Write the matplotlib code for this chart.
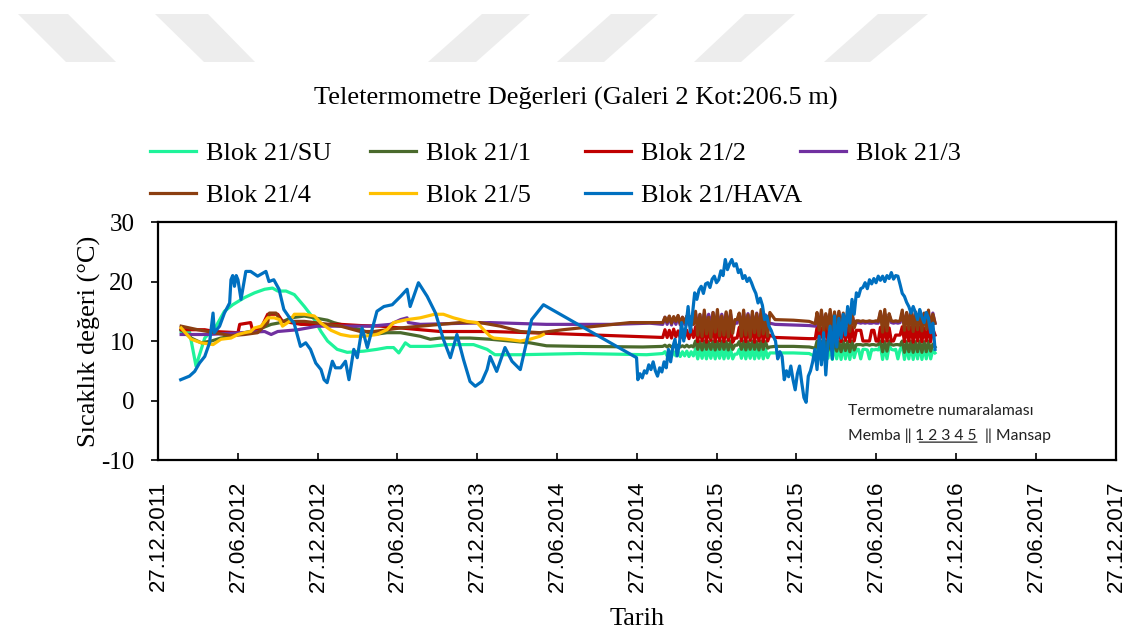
import pandas as pd
import matplotlib.pyplot as plt
import matplotlib.dates as mdates
from matplotlib.patches import Polygon

plt.rcParams['axes.unicode_minus'] = False

# --- Seyrek (elle okunan) olcumler 2012-2015 ---
su_tarih = ['2012-02-18', '2012-03-08', '2012-03-23', '2012-04-12', '2012-05-08', '2012-05-27', '2012-06-15',
            '2012-07-12', '2012-08-04', '2012-08-27', '2012-09-14', '2012-09-26', '2012-10-15', '2012-11-03',
            '2012-11-26', '2012-12-19', '2013-01-03', '2013-01-18', '2013-02-09', '2013-03-04', '2013-04-11',
            '2013-05-11', '2013-06-03', '2013-06-18', '2013-06-30', '2013-07-15', '2013-07-26', '2013-09-10',
            '2013-10-18', '2013-12-18', '2014-01-18', '2014-02-05', '2014-04-04', '2014-08-18', '2015-01-18',
            '2015-02-24']
su_deger = [11.6, 11.6, 5.8, 10.5, 12.5, 15.0, 16.1, 17.3, 18.1, 18.7, 18.9, 18.4, 18.4, 17.8, 15.8, 13.6,
            11.6, 10.0, 8.6, 8.1, 8.3, 8.6, 8.9, 8.9, 8.0, 9.7, 9.1, 9.1, 9.4, 9.4, 8.6, 7.7, 7.7, 7.9, 7.7, 7.9]

bir_tarih = ['2012-02-18', '2012-03-12', '2012-04-04', '2012-04-27', '2012-05-19', '2012-06-11', '2012-07-12',
             '2012-08-11', '2012-09-11', '2012-10-03', '2012-10-26', '2012-11-26', '2012-12-19', '2013-01-18',
             '2013-02-01', '2013-03-04', '2013-04-03', '2013-05-04', '2013-06-03', '2013-07-04', '2013-07-26',
             '2013-08-18', '2013-09-10', '2013-10-03', '2013-12-10', '2014-01-25', '2014-04-26', '2014-06-03',
             '2014-08-18', '2015-01-09', '2015-02-24']
bir_deger = [11.9, 10.5, 9.7, 10.0, 10.5, 10.8, 11.4, 11.9, 12.8, 13.1, 13.9, 14.2, 13.9, 13.5, 13.1, 12.5,
             11.9, 11.1, 11.4, 11.4, 11.1, 10.8, 10.3, 10.5, 10.5, 10.3, 9.7, 9.2, 9.1, 9.0, 9.1]

iki_tarih = ['2012-02-18', '2012-04-12', '2012-05-04', '2012-06-27', '2012-07-01', '2012-07-26', '2012-07-30',
             '2012-08-19', '2012-09-03', '2012-09-26', '2012-10-07', '2012-10-26', '2012-11-18', '2013-01-18',
             '2013-02-17', '2013-04-03', '2013-05-19', '2013-07-04', '2013-08-18', '2013-10-03', '2014-01-25',
             '2014-04-26', '2014-08-18', '2014-12-11', '2015-02-24']
iki_deger = [11.9, 11.9, 11.6, 11.4, 12.8, 13.1, 11.9, 12.2, 14.5, 14.5, 13.3, 13.1, 12.8, 12.8, 12.8, 12.6,
             12.5, 12.2, 11.9, 11.6, 11.6, 11.4, 11.1, 10.8, 10.6]

uc_tarih = ['2012-02-18', '2012-04-19', '2012-07-04', '2012-08-27', '2012-09-11', '2012-09-26', '2012-11-11',
            '2012-12-26', '2013-03-11', '2013-04-26', '2013-06-11', '2013-07-04', '2013-07-19', '2013-07-22',
            '2013-08-18', '2014-01-25', '2014-06-03', '2014-11-02', '2015-01-25', '2015-02-24']
uc_deger = [11.1, 11.1, 11.4, 11.6, 11.1, 11.6, 11.9, 12.5, 12.5, 12.5, 12.8, 13.6, 13.9, 13.1, 12.8, 13.1,
            12.8, 12.8, 13.0, 12.8]

dort_tarih = ['2012-02-18', '2012-03-27', '2012-05-04', '2012-06-11', '2012-07-12', '2012-08-11', '2012-09-03',
              '2012-09-07', '2012-09-22', '2012-10-03', '2012-11-26', '2012-12-19', '2013-01-18', '2013-02-17',
              '2013-04-03', '2013-05-04', '2013-06-03', '2013-07-04', '2013-08-18', '2013-10-03', '2013-11-18',
              '2014-01-02', '2014-02-17', '2014-04-04', '2014-05-19', '2014-07-11', '2014-09-26', '2014-12-11',
              '2015-02-24']
dort_deger = [12.5, 11.9, 11.4, 10.9, 11.1, 11.4, 13.1, 14.7, 14.7, 13.3, 13.3, 13.1, 12.8, 12.5, 11.6, 11.6,
              11.9, 12.2, 12.5, 12.8, 13.1, 13.1, 12.5, 11.6, 11.4, 11.9, 12.5, 13.1, 13.1]

bes_tarih = ['2012-02-18', '2012-03-12', '2012-04-04', '2012-05-01', '2012-05-19', '2012-06-11', '2012-06-27',
             '2012-07-12', '2012-07-26', '2012-08-04', '2012-08-19', '2012-09-03', '2012-09-18', '2012-09-30',
             '2012-10-07', '2012-10-23', '2012-11-03', '2012-11-26', '2012-12-19', '2013-01-03', '2013-01-26',
             '2013-02-17', '2013-03-11', '2013-04-11', '2013-05-11', '2013-06-03', '2013-06-18', '2013-07-19',
             '2013-08-18', '2013-09-20', '2013-10-10', '2013-11-02', '2013-12-03', '2013-12-26', '2014-01-10',
             '2014-01-25', '2014-02-02', '2014-03-04', '2014-04-04', '2014-04-26', '2014-05-19', '2014-05-27']
bes_deger = [12.2, 10.3, 9.7, 9.4, 10.3, 10.5, 11.1, 11.4, 11.6, 12.2, 12.5, 13.9, 13.9, 13.6, 12.5, 13.3,
             14.5, 14.5, 14.2, 13.0, 11.8, 11.1, 10.8, 10.8, 11.1, 11.9, 13.1, 13.6, 13.9, 14.5, 14.5, 13.9,
             13.3, 13.1, 11.9, 10.8, 10.5, 10.3, 10.0, 10.3, 10.8, 11.1]

hava_tarih = ['2012-02-17', '2012-03-08', '2012-03-20', '2012-03-31', '2012-04-12', '2012-04-23', '2012-05-01',
              '2012-05-04', '2012-05-16', '2012-05-27', '2012-06-08', '2012-06-11', '2012-06-15', '2012-06-19',
              '2012-06-23', '2012-06-27', '2012-07-04', '2012-07-15', '2012-07-26', '2012-08-11', '2012-08-30',
              '2012-09-06', '2012-09-17', '2012-09-29', '2012-10-10', '2012-10-26', '2012-11-02', '2012-11-17',
              '2012-11-29', '2012-12-10', '2012-12-22', '2013-01-03', '2013-01-10', '2013-01-17', '2013-01-29',
              '2013-02-05', '2013-02-17', '2013-02-28', '2013-03-08', '2013-03-19', '2013-03-27', '2013-04-07',
              '2013-04-19', '2013-05-11', '2013-05-27', '2013-06-15', '2013-07-04', '2013-07-19', '2013-07-26',
              '2013-08-14', '2013-09-03', '2013-09-22', '2013-10-10', '2013-10-26', '2013-11-10', '2013-11-25',
              '2013-12-10', '2013-12-22', '2014-01-06', '2014-01-18', '2014-01-25', '2014-02-09', '2014-02-28',
              '2014-03-16', '2014-04-04', '2014-04-30', '2014-05-27', '2014-12-26']
hava_deger = [3.5, 4.1, 4.9, 6.3, 7.4, 9.7, 14.7, 11.4, 12.5, 14.7, 16.4, 20.3, 21.0, 19.2, 21.0, 20.3, 17.0,
              21.7, 21.7, 20.9, 21.7, 20.0, 20.3, 18.7, 15.3, 13.6, 13.1, 9.1, 9.7, 8.6, 6.3, 5.2, 3.5, 3.0,
              6.6, 5.5, 5.5, 6.6, 3.5, 8.6, 7.2, 12.2, 8.9, 15.0, 15.8, 16.1, 17.5, 18.7, 15.8, 19.8, 17.5,
              14.7, 10.3, 7.2, 11.1, 6.9, 3.2, 2.4, 3.2, 5.2, 7.4, 4.9, 8.9, 6.6, 5.2, 13.6, 16.1, 7.2]

# --- Otomatik (sik) olcumler, 5 gunde bir okunan degerler ---
# donem A: 01.03.2015'ten itibaren, donem B: 12.02.2016'dan itibaren
su_a = [8.2, 7.5, 8.3, 7.4, 8.2, 7.5, 8.3, 7.4, 8.2, 7.5, 8.3, 7.4, 8.2, 7.5, 8.7, 7.0, 8.6, 7.1, 8.7, 7.0,
        8.6, 7.1, 8.7, 7.0, 8.6, 7.1, 8.7, 7.0, 8.6, 7.1, 8.7, 7.0, 7.8, 7.8, 8.6, 7.1, 8.7, 7.0, 8.6, 7.1,
        8.7, 7.0, 8.6, 7.1, 8.7, 7.0, 8.6, 7.2, 8.0]
bir_a = [9.3, 9.0, 9.3, 9.0, 9.2, 9.0, 9.3, 9.0, 9.2, 9.0, 9.3, 9.0, 9.2, 9.0, 10.0, 8.6, 9.9, 8.5, 10.0, 8.6,
         9.9, 8.6, 10.0, 8.5, 9.9, 8.6, 10.0, 8.6, 9.9, 8.5, 10.0, 8.6, 9.3, 9.3, 9.9, 8.6, 10.0, 8.5, 9.9, 8.6,
         10.0, 8.6, 9.9, 8.5, 10.0, 8.6, 9.9, 8.8, 9.0]
iki_a = [11.9, 10.6, 11.8, 10.5, 12.0, 10.7, 11.7, 10.5, 11.9, 10.6, 11.8, 10.4, 12.0, 10.6, 12.4, 9.9, 12.3,
         10.0, 12.5, 9.8, 12.2, 10.1, 12.4, 9.9, 12.3, 10.0, 12.5, 9.9, 12.2, 10.1, 12.4, 9.8, 10.5, 10.5, 12.3,
         10.0, 12.5, 9.9, 12.2, 10.1, 12.4, 9.8, 12.3, 10.0, 12.5, 9.9, 12.2, 10.0, 11.0]
uc_a = [14.0, 12.8, 14.1, 12.7, 14.0, 12.8, 14.2, 12.7, 14.0, 12.8, 14.1, 12.7, 14.0, 12.8, 14.6, 12.5, 14.4,
        12.6, 14.7, 12.5, 14.5, 12.6, 14.8, 12.5, 14.6, 12.6, 14.5, 12.5, 14.7, 12.6, 14.6, 12.5, 13.0, 13.0,
        14.5, 12.6, 14.8, 12.5, 14.6, 12.6, 14.5, 12.5, 14.7, 12.6, 14.6, 12.5, 14.4, 12.6, 13.0]
dort_a = [14.0, 13.2, 14.2, 13.0, 14.1, 13.3, 14.3, 12.9, 14.0, 13.1, 14.2, 13.0, 14.1, 12.8, 15.0, 11.0, 14.5,
          10.8, 15.2, 11.2, 14.0, 10.6, 14.8, 11.5, 15.3, 10.9, 14.2, 11.0, 14.9, 10.7, 15.1, 11.3, 13.6, 13.6,
          14.7, 10.8, 15.2, 11.0, 14.4, 10.6, 15.0, 11.4, 14.6, 10.9, 15.3, 11.2, 14.1, 10.8, 14.8]

ara_tarih = ['2015-11-08', '2015-12-20', '2016-01-25', '2016-02-08']
su_ara = [8.0, 8.0, 7.9, 7.4]
bir_ara = [9.1, 9.1, 9.0, 8.8]
iki_ara = [10.6, 10.5, 10.4, 10.4]
uc_ara = [12.8, 12.7, 12.6, 12.5]
dort_ara = [13.6, 13.5, 13.3, 12.9]

su_b = [9.2, 7.0, 9.0, 6.9, 9.3, 7.1, 9.1, 6.9, 9.2, 7.0, 9.0, 6.9, 9.3, 7.0, 9.1, 6.9, 9.2, 7.2,
        8.6, 8.6, 7.0, 8.6, 8.6, 8.5, 7.0, 8.6, 8.5, 8.6, 8.5, 9.2, 6.9, 9.1, 7.0, 9.2,
        8.6, 8.5, 8.6, 7.0, 8.6, 9.2, 6.9, 9.0, 7.0, 9.3, 6.9, 9.1, 7.0, 9.2, 6.9, 9.0, 7.0, 9.2, 7.0, 8.5, 8.0]
bir_b = [10.0, 8.3, 9.9, 8.2, 10.0, 8.4, 9.9, 8.2, 10.0, 8.3, 9.9, 8.2, 10.0, 8.4, 9.9, 8.2, 10.0, 8.5,
         9.4, 9.4, 9.4, 9.3, 9.4, 9.4, 9.3, 9.4, 9.4, 9.3, 9.4, 10.0, 8.2, 9.9, 8.3, 10.0,
         9.4, 9.3, 9.4, 9.4, 9.3, 10.0, 8.1, 9.9, 8.2, 10.0, 8.1, 9.9, 8.2, 10.0, 8.1, 9.9, 8.2, 10.0, 8.3, 9.5, 9.0]
iki_b = [12.3, 10.0, 12.2, 9.9, 12.4, 10.1, 12.3, 9.9, 12.2, 10.0, 12.4, 9.9, 12.3, 10.1, 12.2, 9.9, 12.4, 10.0,
         11.8, 11.8, 11.8, 10.0, 10.0, 10.0, 10.0, 11.8, 11.8, 10.0, 10.0, 12.3, 9.9, 12.4, 10.0, 12.2,
         10.0, 10.0, 11.0, 11.0, 11.0, 12.4, 9.9, 12.3, 10.0, 12.4, 9.8, 12.3, 10.0, 12.4, 9.9, 12.2, 10.0, 12.3,
         9.9, 12.0, 11.0]
uc_b = [14.5, 12.8, 14.7, 12.7, 14.4, 12.8, 14.6, 12.7, 14.5, 12.8, 14.8, 12.7, 14.4, 12.8, 14.6, 12.7, 14.5, 12.9,
        13.1, 13.1, 13.0, 13.1, 13.0, 13.1, 13.0, 13.0, 13.1, 13.0, 13.0, 14.8, 12.8, 14.6, 12.7, 14.4,
        13.1, 13.0, 13.1, 13.0, 13.1, 14.6, 12.8, 14.7, 12.7, 14.5, 12.8, 14.8, 12.7, 14.4, 12.8, 14.6, 12.7, 14.5,
        12.8, 14.7, 13.0]
dort_b = [14.8, 11.8, 15.2, 11.5, 14.6, 12.0, 15.3, 11.6, 14.9, 11.7, 15.0, 11.5, 14.7, 11.9, 15.2, 11.6, 14.8, 12.2,
          13.4, 13.4, 13.3, 13.4, 13.3, 13.3, 13.4, 13.3, 13.3, 13.4, 13.3, 15.0, 11.5, 15.3, 11.7, 14.6,
          13.4, 13.3, 13.4, 13.3, 13.4, 15.2, 11.8, 14.8, 12.0, 15.3, 11.6, 14.9, 11.9, 15.1, 11.7, 14.7, 12.0, 15.2,
          11.8, 14.5, 13.0]

# hava sicakligi, 29.12.2014'ten itibaren 5 gunde bir
hava_yogun = [3.5, 4.5, 3.8, 5.0, 4.6, 6.0, 5.2, 6.5, 5.0, 4.1,
              5.5, 4.8, 6.5, 5.5, 8.6, 6.5, 9.0, 10.3, 7.5, 9.5,
              13.1, 10.0, 12.5, 15.8, 11.5, 14.5, 18.1, 17.0, 18.6, 19.2,
              18.0, 19.6, 19.8, 19.0, 20.4, 20.9, 19.8, 20.3, 21.8, 21.0,
              23.7, 22.0, 23.0, 23.7, 22.6, 23.0, 21.5, 22.0, 20.5, 21.0,
              20.0, 20.6, 19.8, 18.8, 18.0, 16.4, 17.2, 16.0, 13.6, 14.2,
              12.5, 11.8, 10.8, 10.0, 7.0, 8.2, 7.4, 3.5, 5.0, 4.0,
              5.8, 3.5, 1.8, 4.5, 5.8, 3.0, 0.5, -0.3, 4.1, 5.0, 6.5,
              8.6, 5.2, 10.8, 6.0, 11.4, 4.3, 9.8, 12.5, 7.0, 14.2, 9.0, 13.8, 10.5, 14.5, 11.0, 15.8, 13.0, 17.0, 14.5,
              18.1, 17.5, 18.8, 19.0, 19.8, 18.8, 20.3, 19.6, 20.5, 19.8,
              20.9, 20.2, 20.9, 20.0, 21.0, 20.5, 21.5, 20.4, 21.0, 20.9,
              19.5, 18.0, 17.5, 16.5, 15.8, 14.7, 15.8, 14.8, 13.6, 15.3,
              14.0, 13.1, 14.8, 13.8, 11.4, 13.0, 8.6]

etiketler = ['Blok 21/SU', 'Blok 21/1', 'Blok 21/2', 'Blok 21/3', 'Blok 21/4', 'Blok 21/5', 'Blok 21/HAVA']
renkler = ['#1EF39A', '#4A6A2C', '#C00000', '#7030A0', '#8B3E10', '#FFC000', '#0070C0']
eksen_tarihleri = ['2011-12-27', '2012-06-27', '2012-12-27', '2013-06-27', '2013-12-27', '2014-06-27',
                   '2014-12-27', '2015-06-27', '2015-12-27', '2016-06-27', '2016-12-27', '2017-06-27',
                   '2017-12-27']


def birlestir(tarih, deger, a, ara, b):
    x = list(pd.to_datetime(tarih))
    x += list(pd.date_range('2015-03-01', periods=len(a), freq='5D'))
    x += list(pd.to_datetime(ara_tarih))
    x += list(pd.date_range('2016-02-12', periods=len(b), freq='5D'))
    return x, deger + a + ara + b


seriler = [
    birlestir(su_tarih, su_deger, su_a, su_ara, su_b),
    birlestir(bir_tarih, bir_deger, bir_a, bir_ara, bir_b),
    birlestir(iki_tarih, iki_deger, iki_a, iki_ara, iki_b),
    birlestir(uc_tarih, uc_deger, uc_a, uc_ara, uc_b),
    birlestir(dort_tarih, dort_deger, dort_a, dort_ara, dort_b),
    (list(pd.to_datetime(bes_tarih)), bes_deger),
    (list(pd.to_datetime(hava_tarih)) + list(pd.date_range('2014-12-29', periods=len(hava_yogun), freq='5D')),
     hava_deger + hava_yogun),
]

serif = 'Liberation Serif'
fig = plt.figure(figsize=(11.26, 6.34), dpi=100)

# arka plandaki filigran seritleri
seritler = [[(18, 14), (68, 14), (116, 62), (66, 62)],
            [(155, 14), (208, 14), (255, 62), (204, 62)],
            [(482, 14), (530, 14), (476, 62), (428, 62)],
            [(611, 14), (658, 14), (604, 62), (557, 62)],
            [(745, 14), (795, 14), (741, 62), (694, 62)],
            [(878, 14), (928, 14), (870, 62), (824, 62)]]
for s in seritler:
    fig.patches.append(Polygon([(px / 1126, 1 - py / 634) for px, py in s], closed=True,
                               facecolor='#EDEDED', edgecolor='none', transform=fig.transFigure))

ax = fig.add_axes([0.1403, 0.2744, 0.8508, 0.3754])

cizgiler = []
for (x, y), etiket, renk in zip(seriler, etiketler, renkler):
    l, = ax.plot(x, y, color=renk, linewidth=2.3, label=etiket)
    cizgiler.append(l)

ax.set_xlim(pd.Timestamp('2011-12-27'), pd.Timestamp('2017-12-27'))
ax.set_ylim(-10, 30)
ax.set_yticks([-10, 0, 10, 20, 30])
ax.set_xticks(pd.to_datetime(eksen_tarihleri))
ax.xaxis.set_major_formatter(mdates.DateFormatter('%d.%m.%Y'))

for sp in ax.spines.values():
    sp.set_linewidth(1.6)
    sp.set_color('black')
ax.tick_params(axis='y', direction='out', length=5, width=1.2, pad=12)
ax.tick_params(axis='x', direction='in', length=5, width=1.2, pad=15)
for t in ax.get_yticklabels():
    t.set_fontfamily(serif)
    t.set_fontsize(18)
for t in ax.get_xticklabels():
    t.set_fontfamily('Liberation Sans')
    t.set_fontsize(16)
    t.set_rotation(90)

ax.set_ylabel('Sıcaklık değeri (°C)', fontfamily=serif, fontsize=19, labelpad=0)
ax.set_xlabel('Tarih', fontfamily=serif, fontsize=19, labelpad=11)

fig.text(0.511, 0.845, 'Teletermometre Değerleri (Galeri 2 Kot:206.5 m)', ha='center', va='center',
         fontfamily=serif, fontsize=19)

# legend: Excel gibi esit aralikli 4 sutun, her sutun ayri
sutunlar = [[0, 4], [1, 5], [2, 6], [3]]
sutun_x = [0.1121, 0.3075, 0.4984, 0.6893]
for idx, sx in zip(sutunlar, sutun_x):
    sy = 0.725 if len(idx) == 2 else 0.7585
    fig.legend([cizgiler[i] for i in idx], [etiketler[i] for i in idx], loc='center left',
               bbox_to_anchor=(sx, sy), frameon=False, prop={'family': serif, 'size': 19},
               handlelength=1.75, handletextpad=0.38, labelspacing=0.68, borderpad=0.4)

# termometre numaralama notu
not_font = ['Lato', 'DejaVu Sans']
ax.text(0.720, 0.206, 'Termometre numaralaması', transform=ax.transAxes, fontsize=11.3,
        family=not_font, color='#222222', va='center')
t1 = ax.text(0.720, 0.101, 'Memba ‖', transform=ax.transAxes, fontsize=11.3,
             family=not_font, color='#222222', va='center')
t2 = ax.annotate(' 1 2 3 4 5', xy=(1, 0), xycoords=t1, va='bottom', fontsize=11.3,
                 family=not_font, color='#222222')
ax.annotate('  ‖ Mansap', xy=(1, 0), xycoords=t2, va='bottom', fontsize=11.3,
            family=not_font, color='#222222')
ax.annotate('', xy=(0.12, 0.08), xycoords=t2, xytext=(1.0, 0.08), textcoords=t2,
            arrowprops=dict(arrowstyle='-', lw=0.9, color='#222222', shrinkA=0, shrinkB=0))

plt.savefig('out.png', dpi=100)
